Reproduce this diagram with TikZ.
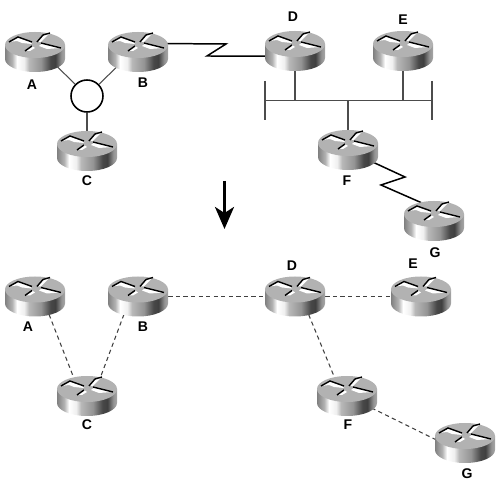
\documentclass[tikz,border=0pt]{standalone}
\usepackage{fontspec}
\setsansfont{Liberation Sans}
\usetikzlibrary{arrows.meta,shapes.geometric}

\pgfdeclarehorizontalshading{routerside}{100bp}{
  color(0bp)=(black!50);
  color(25bp)=(black!50);
  color(31bp)=(black!30);
  color(35bp)=(white);
  color(41bp)=(black!6);
  color(45bp)=(black!28);
  color(55bp)=(black!42);
  color(63bp)=(black!72);
  color(67bp)=(black!75);
  color(72bp)=(black!42);
  color(75bp)=(black!35);
  color(100bp)=(black!35)}

\tikzset{
  spot/.style={ellipse, minimum width=1.2cm, minimum height=0.8cm, inner sep=0pt},
  ringnode/.style={circle, draw=black, line width=0.9pt, fill=white, minimum size=0.64cm, inner sep=0pt},
  lbl/.style={font=\sffamily\bfseries\fontsize{8}{9}\selectfont, inner sep=0pt},
  lan/.style={draw=black!70, line width=0.6pt},
  serial/.style={draw=black, line width=0.85pt},
  virtual/.style={draw=black!75, line width=0.6pt, dash pattern=on 2.4pt off 1.9pt},
  router/.pic={
    \shade[shading=routerside] (-30,-7) -- (-30,7) arc[start angle=180, end angle=0, x radius=30, y radius=13] -- (30,-7) -- cycle;
    \fill[black!30] (0,-7) ellipse[x radius=30, y radius=13];
    % white arrows
    \fill[white] (-26,-10) -- (-17,-15) -- (-6,-11) -- (-3,-8) -- (-13,-9) -- (-18,-11) -- cycle;
    \fill[white] (2,-10) -- (8,-17) -- (15,-19) -- (10,-14) -- (6,-10) -- cycle;
    \fill[white] (4,-6) -- (8,-9) -- (26,-4) -- (12,-3) -- cycle;
    \fill[white] (-10,-1) -- (-3,-6) -- (0,-4) -- (-5,-1) -- cycle;
    % black edges
    \draw[black, line width=0.8pt] (-26,-10) -- (-17,-15) -- (-3,-10);
    \draw[black, line width=0.8pt] (2,-10) -- (8,-17) -- (15,-19);
    \draw[black, line width=0.8pt] (6,-9) -- (26,-4);
    \draw[black, line width=0.8pt] (-10,-1) -- (-3,-6);
  }
}

\begin{document}
\begin{tikzpicture}[x=0.02cm, y=-0.02cm]
        \useasboundingbox (0,0) rectangle (500,492);

        % ==== UPPER ROUTERS (places) ====
        \node[spot] (A1) at (35,52) {};
        \node[spot] (B1) at (138,52) {};
        \node[spot] (C1) at (87,151) {};
        \node[spot] (D1) at (295,51) {};
        \node[spot] (E1) at (403,51) {};
        \node[spot] (F1) at (348,150) {};
        \node[spot] (G1) at (434,221) {};

        % ==== LOWER ROUTERS (places) ====
        \node[spot] (A2) at (35,296.5) {};
        \node[spot] (B2) at (138,296.5) {};
        \node[spot] (C2) at (87,396) {};
        \node[spot] (D2) at (295,296.5) {};
        \node[spot] (E2) at (421,296.5) {};
        \node[spot] (F2) at (347,396) {};
        \node[spot] (G2) at (465,443) {};

        % ==== RING ====
        \node[ringnode] (ring) at (87,96) {};
        \draw[lan] (A1.-33) -- (ring);
        \draw[lan] (B1.-145) -- (ring);
        \draw[lan] (C1) -- (ring);

        % ==== SERIAL B TO D ====
        \coordinate (zigB) at (226,44);
        \coordinate (zigD) at (207,56);
        \draw[serial] (B1.17) -- (zigB) -- (zigD) -- (D1.190);

        % ==== BUS ====
        \coordinate (busL) at (265,100.5);
        \coordinate (busR) at (432,100.5);
        \coordinate (capLT) at (265,81);
        \coordinate (capLB) at (265,120);
        \coordinate (capRT) at (432,81);
        \coordinate (capRB) at (432,120);
        \draw[lan, line width=0.85pt] (busL) -- (busR);
        \draw[lan] (capLT) -- (capLB);
        \draw[lan] (capRT) -- (capRB);
        \draw[lan] (D1) -- (D1 |- busL);
        \draw[lan] (E1) -- (E1 |- busL);
        \draw[lan] (F1) -- (F1 |- busL);

        % ==== SERIAL F TO G ====
        \coordinate (zigF) at (405,177);
        \coordinate (zigG) at (381,185);
        \draw[serial] (F1.-26) -- (zigF) -- (zigG) -- (G1.125);

        % ==== BIG ARROW ====
        \coordinate (arrowTop) at (224.5,181);
        \coordinate (arrowEnd) at (224.5,229);
        \draw[line width=1.7pt, -{Stealth[length=0.44cm, width=0.38cm, inset=0.12cm]}] (arrowTop) -- (arrowEnd);

        % ==== VIRTUAL LINKS ====
        \draw[virtual] (A2.-52) -- (C2.126);
        \draw[virtual] (B2.-128) -- (C2.54);
        \draw[virtual] (B2) -- (D2);
        \draw[virtual] (D2) -- (E2);
        \draw[virtual] (D2.-53) -- (F2.124);
        \draw[virtual] (F2.-26) -- (G2.173);

        % ==== ROUTERS ====
        \pic at (A1) {router};
        \pic at (B1) {router};
        \pic at (C1) {router};
        \pic at (D1) {router};
        \pic at (E1) {router};
        \pic at (F1) {router};
        \pic at (G1) {router};
        \pic at (A2) {router};
        \pic at (B2) {router};
        \pic at (C2) {router};
        \pic at (D2) {router};
        \pic at (E2) {router};
        \pic at (F2) {router};
        \pic at (G2) {router};

        % ==== UPPER LABELS ====
        \node[lbl] (labelA1) at (32,85) {A};
        \node[lbl] (labelB1) at (143,83) {B};
        \node[lbl] (labelC1) at (87,181) {C};
        \node[lbl] (labelD1) at (293,17) {D};
        \node[lbl] (labelE1) at (403,20) {E};
        \node[lbl] (labelF1) at (347,181) {F};
        \node[lbl] (labelG1) at (435,253) {G};

        % ==== LOWER LABELS ====
        \node[lbl] (labelA2) at (28,327) {A};
        \node[lbl] (labelB2) at (143,327) {B};
        \node[lbl] (labelC2) at (87,425) {C};
        \node[lbl] (labelD2) at (292,266) {D};
        \node[lbl] (labelE2) at (413,264) {E};
        \node[lbl] (labelF2) at (348,425) {F};
        \node[lbl] (labelG2) at (467,474) {G};
\end{tikzpicture}
\end{document}
